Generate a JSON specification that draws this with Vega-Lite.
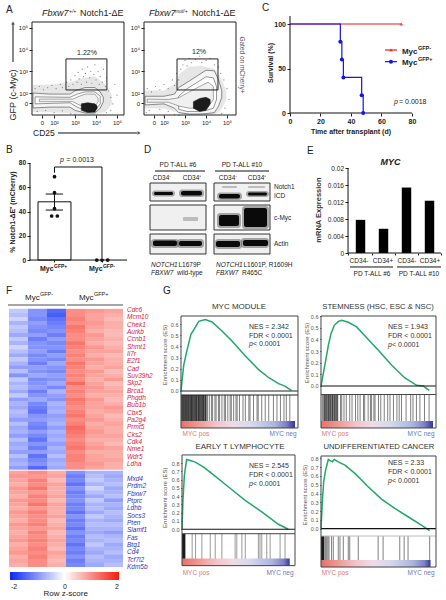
{"$schema":"https://vega.github.io/schema/vega-lite/v6.json","padding":0,"background":"white","columns":3,"spacing":0,"bounds":"flush","align":"none",
"config":{"view":{"stroke":null},"font":"Liberation Sans","axis":{"domain":false,"grid":false,"labelOverlap":false,"tickColor":"#222","labelColor":"#222","tickSize":3,"labelPadding":1.5},"text":{"color":"#222"}},
"datasets":{"heat":[
{"x":0,"y":0,"z":-0.5},{"x":1,"y":0,"z":-1.0},{"x":2,"y":0,"z":-1.4},{"x":3,"y":0,"z":1.0},{"x":4,"y":0,"z":0.9},{"x":5,"y":0,"z":0.8},
{"x":0,"y":1,"z":-0.6},{"x":1,"y":1,"z":-1.0},{"x":2,"y":1,"z":-1.5},{"x":3,"y":1,"z":1.0},{"x":4,"y":1,"z":0.8},{"x":5,"y":1,"z":0.7},
{"x":0,"y":2,"z":-0.4},{"x":1,"y":2,"z":-1.1},{"x":2,"y":2,"z":-1.3},{"x":3,"y":2,"z":1.1},{"x":4,"y":2,"z":0.8},{"x":5,"y":2,"z":0.6},
{"x":0,"y":3,"z":-0.7},{"x":1,"y":3,"z":-0.9},{"x":2,"y":3,"z":-1.2},{"x":3,"y":3,"z":1.0},{"x":4,"y":3,"z":0.9},{"x":5,"y":3,"z":0.7},
{"x":0,"y":4,"z":-0.5},{"x":1,"y":4,"z":-1.0},{"x":2,"y":4,"z":-1.1},{"x":3,"y":4,"z":1.2},{"x":4,"y":4,"z":0.8},{"x":5,"y":4,"z":0.7},
{"x":0,"y":5,"z":-0.6},{"x":1,"y":5,"z":-1.1},{"x":2,"y":5,"z":-1.0},{"x":3,"y":5,"z":1.1},{"x":4,"y":5,"z":0.7},{"x":5,"y":5,"z":0.6},
{"x":0,"y":6,"z":-0.8},{"x":1,"y":6,"z":-0.9},{"x":2,"y":6,"z":-1.2},{"x":3,"y":6,"z":1.0},{"x":4,"y":6,"z":0.9},{"x":5,"y":6,"z":0.6},
{"x":0,"y":7,"z":-0.5},{"x":1,"y":7,"z":-1.2},{"x":2,"y":7,"z":-0.9},{"x":3,"y":7,"z":1.0},{"x":4,"y":7,"z":0.8},{"x":5,"y":7,"z":0.7},
{"x":0,"y":8,"z":-0.7},{"x":1,"y":8,"z":-1.0},{"x":2,"y":8,"z":-1.1},{"x":3,"y":8,"z":1.2},{"x":4,"y":8,"z":0.7},{"x":5,"y":8,"z":0.6},
{"x":0,"y":9,"z":-0.4},{"x":1,"y":9,"z":-1.0},{"x":2,"y":9,"z":-1.0},{"x":3,"y":9,"z":1.1},{"x":4,"y":9,"z":0.9},{"x":5,"y":9,"z":0.7},
{"x":0,"y":10,"z":-0.6},{"x":1,"y":10,"z":-0.9},{"x":2,"y":10,"z":-1.2},{"x":3,"y":10,"z":1.0},{"x":4,"y":10,"z":0.8},{"x":5,"y":10,"z":0.8},
{"x":0,"y":11,"z":-0.8},{"x":1,"y":11,"z":-1.1},{"x":2,"y":11,"z":-0.9},{"x":3,"y":11,"z":1.1},{"x":4,"y":11,"z":0.7},{"x":5,"y":11,"z":0.6},
{"x":0,"y":12,"z":-0.5},{"x":1,"y":12,"z":-1.0},{"x":2,"y":12,"z":-1.1},{"x":3,"y":12,"z":1.0},{"x":4,"y":12,"z":0.9},{"x":5,"y":12,"z":0.7},
{"x":0,"y":13,"z":-0.7},{"x":1,"y":13,"z":-1.2},{"x":2,"y":13,"z":-0.8},{"x":3,"y":13,"z":1.2},{"x":4,"y":13,"z":0.8},{"x":5,"y":13,"z":0.7},
{"x":0,"y":14,"z":-0.9},{"x":1,"y":14,"z":-0.9},{"x":2,"y":14,"z":-1.0},{"x":3,"y":14,"z":1.1},{"x":4,"y":14,"z":0.7},{"x":5,"y":14,"z":0.8},
{"x":0,"y":15,"z":-0.6},{"x":1,"y":15,"z":-1.0},{"x":2,"y":15,"z":-1.1},{"x":3,"y":15,"z":1.0},{"x":4,"y":15,"z":0.9},{"x":5,"y":15,"z":0.6},
{"x":0,"y":16,"z":-1.0},{"x":1,"y":16,"z":-0.8},{"x":2,"y":16,"z":-0.9},{"x":3,"y":16,"z":1.1},{"x":4,"y":16,"z":0.8},{"x":5,"y":16,"z":0.7},
{"x":0,"y":17,"z":-0.5},{"x":1,"y":17,"z":-1.1},{"x":2,"y":17,"z":-1.0},{"x":3,"y":17,"z":1.0},{"x":4,"y":17,"z":0.7},{"x":5,"y":17,"z":0.9},
{"x":0,"y":18,"z":-0.7},{"x":1,"y":18,"z":-1.0},{"x":2,"y":18,"z":-0.8},{"x":3,"y":18,"z":1.3},{"x":4,"y":18,"z":0.8},{"x":5,"y":18,"z":0.6},
{"x":0,"y":19,"z":-0.6},{"x":1,"y":19,"z":-0.9},{"x":2,"y":19,"z":-1.1},{"x":3,"y":19,"z":1.0},{"x":4,"y":19,"z":0.9},{"x":5,"y":19,"z":0.7},
{"x":0,"y":20,"z":-0.8},{"x":1,"y":20,"z":-1.2},{"x":2,"y":20,"z":-0.7},{"x":3,"y":20,"z":1.1},{"x":4,"y":20,"z":0.8},{"x":5,"y":20,"z":0.8},
{"x":0,"y":21,"z":-0.5},{"x":1,"y":21,"z":-1.0},{"x":2,"y":21,"z":-0.9},{"x":3,"y":21,"z":1.0},{"x":4,"y":21,"z":0.7},{"x":5,"y":21,"z":0.7},
{"x":0,"y":22,"z":-0.9},{"x":1,"y":22,"z":-0.8},{"x":2,"y":22,"z":-1.0},{"x":3,"y":22,"z":1.2},{"x":4,"y":22,"z":0.9},{"x":5,"y":22,"z":0.6},
{"x":0,"y":23,"z":-0.7},{"x":1,"y":23,"z":-1.1},{"x":2,"y":23,"z":-0.7},{"x":3,"y":23,"z":1.1},{"x":4,"y":23,"z":0.8},{"x":5,"y":23,"z":0.7},
{"x":0,"y":24,"z":-0.8},{"x":1,"y":24,"z":-1.2},{"x":2,"y":24,"z":-0.8},{"x":3,"y":24,"z":1.0},{"x":4,"y":24,"z":0.8},{"x":5,"y":24,"z":0.9},
{"x":0,"y":25,"z":-0.6},{"x":1,"y":25,"z":-1.3},{"x":2,"y":25,"z":-0.7},{"x":3,"y":25,"z":1.1},{"x":4,"y":25,"z":0.7},{"x":5,"y":25,"z":0.8},
{"x":0,"y":26,"z":-0.7},{"x":1,"y":26,"z":-1.0},{"x":2,"y":26,"z":-0.9},{"x":3,"y":26,"z":1.2},{"x":4,"y":26,"z":0.8},{"x":5,"y":26,"z":0.6},
{"x":0,"y":27,"z":-0.9},{"x":1,"y":27,"z":-0.9},{"x":2,"y":27,"z":-0.8},{"x":3,"y":27,"z":1.0},{"x":4,"y":27,"z":0.9},{"x":5,"y":27,"z":0.7},
{"x":0,"y":28,"z":-0.6},{"x":1,"y":28,"z":-1.1},{"x":2,"y":28,"z":-0.7},{"x":3,"y":28,"z":1.1},{"x":4,"y":28,"z":0.7},{"x":5,"y":28,"z":0.8},
{"x":0,"y":29,"z":-0.8},{"x":1,"y":29,"z":-1.2},{"x":2,"y":29,"z":-0.9},{"x":3,"y":29,"z":1.3},{"x":4,"y":29,"z":0.8},{"x":5,"y":29,"z":0.7},
{"x":0,"y":30,"z":-0.7},{"x":1,"y":30,"z":-0.9},{"x":2,"y":30,"z":-0.7},{"x":3,"y":30,"z":1.2},{"x":4,"y":30,"z":0.9},{"x":5,"y":30,"z":0.7},
{"x":0,"y":31,"z":-0.9},{"x":1,"y":31,"z":-1.1},{"x":2,"y":31,"z":-0.8},{"x":3,"y":31,"z":1.1},{"x":4,"y":31,"z":0.8},{"x":5,"y":31,"z":0.8},
{"x":0,"y":32,"z":-0.6},{"x":1,"y":32,"z":-1.3},{"x":2,"y":32,"z":-0.7},{"x":3,"y":32,"z":1.0},{"x":4,"y":32,"z":0.7},{"x":5,"y":32,"z":0.7},
{"x":0,"y":33,"z":-0.8},{"x":1,"y":33,"z":-1.0},{"x":2,"y":33,"z":-0.9},{"x":3,"y":33,"z":1.1},{"x":4,"y":33,"z":0.8},{"x":5,"y":33,"z":0.6},
{"x":0,"y":34,"z":-0.7},{"x":1,"y":34,"z":-1.2},{"x":2,"y":34,"z":-0.7},{"x":3,"y":34,"z":1.2},{"x":4,"y":34,"z":0.9},{"x":5,"y":34,"z":0.8},
{"x":0,"y":35,"z":-0.9},{"x":1,"y":35,"z":-0.9},{"x":2,"y":35,"z":-0.8},{"x":3,"y":35,"z":1.0},{"x":4,"y":35,"z":0.7},{"x":5,"y":35,"z":0.7},
{"x":0,"y":36,"z":-0.6},{"x":1,"y":36,"z":-1.3},{"x":2,"y":36,"z":-0.6},{"x":3,"y":36,"z":1.1},{"x":4,"y":36,"z":0.8},{"x":5,"y":36,"z":0.7},
{"x":0,"y":37,"z":-0.8},{"x":1,"y":37,"z":-1.1},{"x":2,"y":37,"z":-0.8},{"x":3,"y":37,"z":1.1},{"x":4,"y":37,"z":0.8},{"x":5,"y":37,"z":0.8},
{"x":0,"y":38,"z":-0.7},{"x":1,"y":38,"z":-1.0},{"x":2,"y":38,"z":-0.7},{"x":3,"y":38,"z":1.0},{"x":4,"y":38,"z":0.9},{"x":5,"y":38,"z":0.7},
{"x":0,"y":39,"z":-0.9},{"x":1,"y":39,"z":-1.4},{"x":2,"y":39,"z":-0.8},{"x":3,"y":39,"z":1.0},{"x":4,"y":39,"z":0.8},{"x":5,"y":39,"z":0.7},
{"x":0,"y":40,"z":0.8},{"x":1,"y":40,"z":1.0},{"x":2,"y":40,"z":0.7},{"x":3,"y":40,"z":-1.0},{"x":4,"y":40,"z":-0.7},{"x":5,"y":40,"z":-0.7},
{"x":0,"y":41,"z":0.9},{"x":1,"y":41,"z":0.9},{"x":2,"y":41,"z":0.8},{"x":3,"y":41,"z":-1.2},{"x":4,"y":41,"z":-0.6},{"x":5,"y":41,"z":-0.8},
{"x":0,"y":42,"z":0.8},{"x":1,"y":42,"z":1.1},{"x":2,"y":42,"z":0.6},{"x":3,"y":42,"z":-1.1},{"x":4,"y":42,"z":-0.5},{"x":5,"y":42,"z":-0.7},
{"x":0,"y":43,"z":0.7},{"x":1,"y":43,"z":1.0},{"x":2,"y":43,"z":0.8},{"x":3,"y":43,"z":-1.3},{"x":4,"y":43,"z":-0.7},{"x":5,"y":43,"z":-0.6},
{"x":0,"y":44,"z":0.9},{"x":1,"y":44,"z":1.2},{"x":2,"y":44,"z":0.7},{"x":3,"y":44,"z":-1.0},{"x":4,"y":44,"z":-0.4},{"x":5,"y":44,"z":-0.8},
{"x":0,"y":45,"z":0.8},{"x":1,"y":45,"z":0.9},{"x":2,"y":45,"z":0.7},{"x":3,"y":45,"z":-1.2},{"x":4,"y":45,"z":-0.6},{"x":5,"y":45,"z":-0.7},
{"x":0,"y":46,"z":0.7},{"x":1,"y":46,"z":1.1},{"x":2,"y":46,"z":0.8},{"x":3,"y":46,"z":-1.1},{"x":4,"y":46,"z":-0.8},{"x":5,"y":46,"z":-0.6},
{"x":0,"y":47,"z":0.9},{"x":1,"y":47,"z":1.0},{"x":2,"y":47,"z":0.6},{"x":3,"y":47,"z":-1.0},{"x":4,"y":47,"z":-0.5},{"x":5,"y":47,"z":-0.9},
{"x":0,"y":48,"z":0.8},{"x":1,"y":48,"z":1.2},{"x":2,"y":48,"z":0.8},{"x":3,"y":48,"z":-1.2},{"x":4,"y":48,"z":-0.7},{"x":5,"y":48,"z":-0.7},
{"x":0,"y":49,"z":0.7},{"x":1,"y":49,"z":0.9},{"x":2,"y":49,"z":0.7},{"x":3,"y":49,"z":-1.1},{"x":4,"y":49,"z":-0.6},{"x":5,"y":49,"z":-0.8},
{"x":0,"y":50,"z":0.9},{"x":1,"y":50,"z":1.1},{"x":2,"y":50,"z":0.7},{"x":3,"y":50,"z":-1.3},{"x":4,"y":50,"z":-0.8},{"x":5,"y":50,"z":-0.6},
{"x":0,"y":51,"z":0.8},{"x":1,"y":51,"z":1.0},{"x":2,"y":51,"z":0.8},{"x":3,"y":51,"z":-1.0},{"x":4,"y":51,"z":-0.5},{"x":5,"y":51,"z":-0.7},
{"x":0,"y":52,"z":0.7},{"x":1,"y":52,"z":1.0},{"x":2,"y":52,"z":0.6},{"x":3,"y":52,"z":-1.2},{"x":4,"y":52,"z":-0.7},{"x":5,"y":52,"z":-0.8},
{"x":0,"y":53,"z":0.9},{"x":1,"y":53,"z":1.1},{"x":2,"y":53,"z":0.7},{"x":3,"y":53,"z":-1.1},{"x":4,"y":53,"z":-0.6},{"x":5,"y":53,"z":-0.6},
{"x":0,"y":54,"z":0.8},{"x":1,"y":54,"z":0.9},{"x":2,"y":54,"z":0.8},{"x":3,"y":54,"z":-1.3},{"x":4,"y":54,"z":-0.7},{"x":5,"y":54,"z":-0.7},
{"x":0,"y":55,"z":0.7},{"x":1,"y":55,"z":1.1},{"x":2,"y":55,"z":0.6},{"x":3,"y":55,"z":-1.0},{"x":4,"y":55,"z":-0.8},{"x":5,"y":55,"z":-0.9},
{"x":0,"y":56,"z":0.8},{"x":1,"y":56,"z":1.0},{"x":2,"y":56,"z":0.7},{"x":3,"y":56,"z":-1.2},{"x":4,"y":56,"z":-0.6},{"x":5,"y":56,"z":-0.7},
{"x":0,"y":57,"z":0.9},{"x":1,"y":57,"z":1.1},{"x":2,"y":57,"z":0.8},{"x":3,"y":57,"z":-1.1},{"x":4,"y":57,"z":-0.7},{"x":5,"y":57,"z":-0.6},
{"x":0,"y":58,"z":0.7},{"x":1,"y":58,"z":1.0},{"x":2,"y":58,"z":0.7},{"x":3,"y":58,"z":-1.3},{"x":4,"y":58,"z":-0.5},{"x":5,"y":58,"z":-0.8},
{"x":0,"y":59,"z":0.8},{"x":1,"y":59,"z":1.1},{"x":2,"y":59,"z":0.6},{"x":3,"y":59,"z":-1.1},{"x":4,"y":59,"z":-0.7},{"x":5,"y":59,"z":-0.7},
{"x":0,"y":60,"z":0.9},{"x":1,"y":60,"z":1.0},{"x":2,"y":60,"z":0.8},{"x":3,"y":60,"z":-1.2},{"x":4,"y":60,"z":-0.8},{"x":5,"y":60,"z":-0.6},
{"x":0,"y":61,"z":0.7},{"x":1,"y":61,"z":1.1},{"x":2,"y":61,"z":0.7},{"x":3,"y":61,"z":-1.0},{"x":4,"y":61,"z":-0.6},{"x":5,"y":61,"z":-0.8},
{"x":0,"y":62,"z":0.8},{"x":1,"y":62,"z":1.0},{"x":2,"y":62,"z":0.6},{"x":3,"y":62,"z":-1.2},{"x":4,"y":62,"z":-0.7},{"x":5,"y":62,"z":-0.7},
{"x":0,"y":63,"z":0.7},{"x":1,"y":63,"z":1.0},{"x":2,"y":63,"z":0.7},{"x":3,"y":63,"z":-1.1},{"x":4,"y":63,"z":-0.8},{"x":5,"y":63,"z":-0.6}
]},
"concat":[
{"width":140,"height":142,
"encoding":{"x":{"field":"x","type":"quantitative","title":null,"scale":{"domain":[-0.571,6.095],"nice":false,"zero":false},"axis":{"values":[1.429,2,3,4,5],"labelExpr":"datum.value<2?'0':datum.value==2?'10²':datum.value==3?'10³':datum.value==4?'10⁴':'10⁵'","offset":-27,"labelFontSize":6}},"y":{"field":"y","type":"quantitative","title":null,"scale":{"domain":[-0.258,6.286],"nice":false,"zero":false},"axis":{"values":[1.539,2,3,4,5],"labelExpr":"datum.value<2?'0':datum.value==2?'10²':datum.value==3?'10³':datum.value==4?'10⁴':'10⁵'","offset":-32,"labelFontSize":6}}},
"layer":[
{"data":{"values":[{"l":0,"x":1.0,"y":1.12,"y2":2.37},{"l":0,"x":1.81,"y":1.12,"y2":2.37},{"l":0,"x":2.76,"y":1.08,"y2":2.5},{"l":0,"x":3.48,"y":1.03,"y2":2.7},{"l":0,"x":3.95,"y":1.03,"y2":2.75},{"l":0,"x":4.43,"y":1.12,"y2":2.4},{"l":0,"x":4.75,"y":1.5,"y2":1.9},
{"l":1,"x":1.0,"y":1.31,"y2":2.0},{"l":1,"x":1.81,"y":1.35,"y2":1.95},{"l":1,"x":2.76,"y":1.35,"y2":1.95},{"l":1,"x":3.0,"y":1.2,"y2":2.1},{"l":1,"x":3.48,"y":1.08,"y2":2.25},{"l":1,"x":3.95,"y":1.08,"y2":2.25},{"l":1,"x":4.2,"y":1.3,"y2":2.05},{"l":1,"x":4.35,"y":1.6,"y2":1.8},
{"l":2,"x":1.1,"y":1.5,"y2":1.82},{"l":2,"x":2.76,"y":1.55,"y2":1.8},{"l":2,"x":3.1,"y":1.35,"y2":1.95},{"l":2,"x":3.48,"y":1.2,"y2":2.05},{"l":2,"x":3.95,"y":1.2,"y2":2.05},{"l":2,"x":4.2,"y":1.5,"y2":1.85},
{"l":3,"x":1.3,"y":1.6,"y2":1.72},{"l":3,"x":2.9,"y":1.6,"y2":1.72},{"l":3,"x":3.2,"y":1.45,"y2":1.85},{"l":3,"x":3.5,"y":1.35,"y2":1.95},{"l":3,"x":3.95,"y":1.35,"y2":1.95},{"l":3,"x":4.1,"y":1.6,"y2":1.75},
{"l":4,"x":3.3,"y":1.2,"y2":1.5},{"l":4,"x":3.6,"y":1.1,"y2":1.55},{"l":4,"x":3.95,"y":1.12,"y2":1.5},{"l":4,"x":4.05,"y":1.3,"y2":1.4}]},
"mark":{"type":"area","strokeWidth":0.5},"encoding":{"y2":{"field":"y2"},"fill":{"field":"l","type":"ordinal","legend":null,"scale":{"domain":[0,1,2,3,4],"range":["#e6e6e6","#f5f5f5","#ffffff","#f0f0f0","#1c1c1c"]}},"stroke":{"field":"l","type":"ordinal","legend":null,"scale":{"domain":[0,1,2,3,4],"range":["#e6e6e6","#222222","#333333","#555555","#111111"]}}}},
{"data":{"values":[{"x":1.1,"y":2.2},{"x":1.3,"y":2.3},{"x":1.5,"y":2.15},{"x":1.7,"y":2.25},{"x":1.9,"y":2.35},{"x":2.1,"y":2.2},{"x":2.3,"y":2.4},{"x":2.4,"y":2.25},{"x":2.6,"y":2.5},{"x":2.7,"y":2.3},{"x":2.8,"y":2.6},{"x":2.9,"y":2.4},{"x":3,"y":2.8},{"x":3.1,"y":2.5},{"x":3.15,"y":2.95},{"x":3.2,"y":2.65},{"x":3.3,"y":2.4},{"x":3.35,"y":3.1},{"x":3.4,"y":2.75},{"x":3.5,"y":2.9},{"x":3.55,"y":2.5},{"x":3.6,"y":3.2},{"x":3.7,"y":2.7},{"x":3.75,"y":3.0},{"x":3.8,"y":2.45},{"x":3.9,"y":2.85},{"x":3.95,"y":3.3},{"x":4,"y":2.6},{"x":4.1,"y":3.0},{"x":4.15,"y":2.4},{"x":4.2,"y":2.75},{"x":4.3,"y":2.5},{"x":4.35,"y":3.1},{"x":4.45,"y":2.3},{"x":4.5,"y":2.7},{"x":4.6,"y":2.1},{"x":4.7,"y":1.8},{"x":4.8,"y":1.5},{"x":4.9,"y":2.4},{"x":1.2,"y":1.15},{"x":1.6,"y":1.2},{"x":2,"y":1.1},{"x":2.4,"y":1.18},{"x":2.8,"y":1.05},{"x":3.0,"y":1.0},{"x":4.5,"y":1.1},{"x":4.7,"y":1.2},{"x":5.0,"y":1.9}]},"mark":{"type":"point","filled":true,"size":1.5,"color":"#666","opacity":0.8}},
{"data":{"values":[{"x":0.952,"x2":5.333,"y":0.986,"y2":5.272},{"x":2.57,"x2":4.52,"y":2.14,"y2":3.57}]},"mark":{"type":"rect","fillOpacity":0,"stroke":"#222","strokeWidth":1},"encoding":{"x2":{"field":"x2"},"y2":{"field":"y2"}}},
{"data":{"values":[{"x":0.048,"x2":0.048,"y":3.429,"y2":5.18},{"x":2.19,"x2":5.95,"y":0.157,"y2":0.157}]},"mark":{"type":"rule","color":"#111","strokeWidth":1},"encoding":{"x2":{"field":"x2"},"y2":{"field":"y2"}}},
{"data":{"values":[{"x":0.048,"y":5.226}]},"mark":{"type":"point","shape":"triangle-up","filled":true,"size":14,"color":"#111"}},
{"data":{"values":[{"x":6.05,"y":0.157}]},"mark":{"type":"point","shape":"triangle-right","filled":true,"size":14,"color":"#111"}},
{"data":{"values":[{"x":-0.286,"y":5.825,"t":"A"}]},"mark":{"type":"text","align":"left","fontSize":10},"encoding":{"text":{"field":"t"}}},
{"data":{"values":[{"x":1.429,"y":5.687,"t":"Fbxw7"}]},"mark":{"type":"text","align":"left","fontSize":9,"fontStyle":"italic"},"encoding":{"text":{"field":"t"}}},
{"data":{"values":[{"x":2.714,"y":5.779,"t":"+/+"}]},"mark":{"type":"text","align":"left","fontSize":5,"fontStyle":"italic"},"encoding":{"text":{"field":"t"}}},
{"data":{"values":[{"x":3.238,"y":5.687,"t":"Notch1-ΔE"}]},"mark":{"type":"text","align":"left","fontSize":9},"encoding":{"text":{"field":"t"}}},
{"data":{"values":[{"x":1.0,"y":0.157,"t":"CD25"}]},"mark":{"type":"text","align":"left","fontSize":8.5},"encoding":{"text":{"field":"t"}}},
{"data":{"values":[{"x":3.571,"y":3.843,"t":"1.22%"}]},"mark":{"type":"text","fontSize":7},"encoding":{"text":{"field":"t"}}},
{"data":{"values":[{"x":0.048,"y":1.908,"t":"GFP (c-Myc)"}]},"mark":{"type":"text","fontSize":9,"angle":270},"encoding":{"text":{"field":"t"}}}
]},
{"width":145,"height":142,
"encoding":{"x":{"field":"x","type":"quantitative","title":null,"scale":{"domain":[0.857,7.762],"nice":false,"zero":false},"axis":{"values":[1.524,2,3,4,5],"labelExpr":"datum.value<2?'0':datum.value==2?'10²':datum.value==3?'10³':datum.value==4?'10⁴':'10⁵'","offset":-27,"labelFontSize":6}},"y":{"field":"y","type":"quantitative","title":null,"scale":{"domain":[-0.258,6.286],"nice":false,"zero":false},"axis":{"values":[1.539,2,3,4,5],"labelExpr":"datum.value<2?'0':datum.value==2?'10²':datum.value==3?'10³':datum.value==4?'10⁴':'10⁵'","offset":-4,"labelFontSize":6}}},
"layer":[
{"data":{"values":[{"l":0,"x":1.05,"y":1.31,"y2":2.1},{"l":0,"x":2.0,"y":1.3,"y2":2.1},{"l":0,"x":2.5,"y":1.15,"y2":2.4},{"l":0,"x":2.75,"y":1.05,"y2":2.9},{"l":0,"x":3.2,"y":1.0,"y2":3.2},{"l":0,"x":3.8,"y":1.0,"y2":3.25},{"l":0,"x":4.4,"y":1.0,"y2":3.1},{"l":0,"x":4.7,"y":1.2,"y2":2.7},{"l":0,"x":4.95,"y":1.7,"y2":2.1},
{"l":1,"x":1.1,"y":1.45,"y2":1.85},{"l":1,"x":2.0,"y":1.5,"y2":1.85},{"l":1,"x":2.5,"y":1.3,"y2":1.95},{"l":1,"x":2.7,"y":1.1,"y2":2.25},{"l":1,"x":3.2,"y":1.03,"y2":2.55},{"l":1,"x":3.6,"y":1.03,"y2":2.8},{"l":1,"x":4.0,"y":1.05,"y2":3.05},{"l":1,"x":4.4,"y":1.1,"y2":3.02},{"l":1,"x":4.6,"y":1.4,"y2":2.6},{"l":1,"x":4.75,"y":1.8,"y2":2.1},
{"l":2,"x":2.7,"y":1.25,"y2":1.85},{"l":2,"x":3.1,"y":1.15,"y2":2.2},{"l":2,"x":3.6,"y":1.15,"y2":2.5},{"l":2,"x":4.0,"y":1.2,"y2":2.75},{"l":2,"x":4.35,"y":1.3,"y2":2.7},{"l":2,"x":4.5,"y":1.7,"y2":2.3},
{"l":3,"x":1.2,"y":1.57,"y2":1.72},{"l":3,"x":2.2,"y":1.58,"y2":1.7},{"l":3,"x":2.7,"y":1.4,"y2":1.78},{"l":3,"x":3.2,"y":1.3,"y2":2.05},{"l":3,"x":3.7,"y":1.3,"y2":2.3},{"l":3,"x":4.1,"y":1.35,"y2":2.5},{"l":3,"x":4.35,"y":1.7,"y2":2.3},
{"l":4,"x":3.4,"y":1.3,"y2":1.6},{"l":4,"x":3.7,"y":1.15,"y2":1.75},{"l":4,"x":4.0,"y":1.2,"y2":1.8},{"l":4,"x":4.2,"y":1.5,"y2":1.7}]},
"mark":{"type":"area","strokeWidth":0.5},"encoding":{"y2":{"field":"y2"},"fill":{"field":"l","type":"ordinal","legend":null,"scale":{"domain":[0,1,2,3,4],"range":["#e6e6e6","#e8e8e8","#d8d8d8","#f2f2f2","#1c1c1c"]}},"stroke":{"field":"l","type":"ordinal","legend":null,"scale":{"domain":[0,1,2,3,4],"range":["#e6e6e6","#222222","#333333","#555555","#111111"]}}}},
{"data":{"values":[{"x":1.2,"y":2.2},{"x":1.4,"y":2.05},{"x":1.6,"y":2.3},{"x":1.8,"y":2.15},{"x":2,"y":2.4},{"x":2.2,"y":2.2},{"x":2.4,"y":2.6},{"x":2.5,"y":2.35},{"x":2.6,"y":2.9},{"x":2.7,"y":2.6},{"x":2.8,"y":3.1},{"x":2.9,"y":3.3},{"x":3,"y":3.5},{"x":3.1,"y":3.25},{"x":3.2,"y":3.6},{"x":3.3,"y":3.4},{"x":3.5,"y":3.55},{"x":3.7,"y":3.7},{"x":3.8,"y":3.4},{"x":4,"y":3.5},{"x":4.2,"y":3.6},{"x":4.4,"y":3.3},{"x":4.6,"y":3.2},{"x":4.7,"y":2.9},{"x":4.85,"y":2.6},{"x":5,"y":2.2},{"x":5.1,"y":1.7},{"x":4.9,"y":1.3},{"x":4.75,"y":1.05},{"x":1.3,"y":1.2},{"x":1.8,"y":1.25},{"x":2.2,"y":1.15},{"x":2.5,"y":1.0},{"x":2.7,"y":0.98},{"x":1.15,"y":1.1},{"x":2,"y":0.95}]},"mark":{"type":"point","filled":true,"size":1.5,"color":"#666","opacity":0.8}},
{"data":{"values":[{"x":1.048,"x2":5.429,"y":0.986,"y2":5.272},{"x":2.62,"x2":4.57,"y":2.14,"y2":3.57}]},"mark":{"type":"rect","fillOpacity":0,"stroke":"#222","strokeWidth":1},"encoding":{"x2":{"field":"x2"},"y2":{"field":"y2"}}},
{"data":{"values":[{"x":1.286,"y":5.687,"t":"Fbxw7"}]},"mark":{"type":"text","align":"left","fontSize":9,"fontStyle":"italic"},"encoding":{"text":{"field":"t"}}},
{"data":{"values":[{"x":2.524,"y":5.779,"t":"mut/+"}]},"mark":{"type":"text","align":"left","fontSize":5,"fontStyle":"italic"},"encoding":{"text":{"field":"t"}}},
{"data":{"values":[{"x":3.333,"y":5.687,"t":"Notch1-ΔE"}]},"mark":{"type":"text","align":"left","fontSize":9},"encoding":{"text":{"field":"t"}}},
{"data":{"values":[{"x":3.667,"y":3.89,"t":"12%"}]},"mark":{"type":"text","fontSize":7},"encoding":{"text":{"field":"t"}}},
{"data":{"values":[{"x":5.714,"y":3.29,"t":"Gated on mCherry+"}]},"mark":{"type":"text","fontSize":6.5,"angle":90,"color":"#555"},"encoding":{"text":{"field":"t"}}}
]},
{"width":161,"height":142,
"encoding":{"x":{"field":"x","type":"quantitative","title":null,"scale":{"domain":[-3.279,102.3],"nice":false,"zero":false},"axis":{"values":[0,20,40,60,80],"offset":-29,"labelFontSize":7,"labelFontWeight":"bold"}},"y":{"field":"y","type":"quantitative","title":null,"scale":{"domain":[-32.58,126.97],"nice":false,"zero":false},"axis":{"values":[0,50,100],"offset":-5,"labelFontSize":7,"labelFontWeight":"bold"}}},
"layer":[
{"data":{"values":[{"x":0,"x2":0,"y":0,"y2":109},{"x":0,"x2":80,"y":0,"y2":0}]},"mark":{"type":"rule","color":"#111","strokeWidth":1},"encoding":{"x2":{"field":"x2"},"y2":{"field":"y2"}}},
{"data":{"values":[{"x":0,"y":100},{"x":73,"y":100}]},"mark":{"type":"line","color":"#f01818","strokeWidth":1.2}},
{"data":{"values":[{"x":73,"y":100},{"x":66.2,"y":70.8}]},"mark":{"type":"point","shape":"triangle-up","filled":true,"size":14,"color":"#f01818"}},
{"data":{"values":[{"x":0,"y":100},{"x":33,"y":80},{"x":34,"y":60},{"x":35,"y":40},{"x":47,"y":20},{"x":48,"y":0}]},"mark":{"type":"line","color":"#1414f0","strokeWidth":1.2,"interpolate":"step-after"}},
{"data":{"values":[{"x":33,"y":80},{"x":34,"y":60},{"x":35,"y":40},{"x":47,"y":20},{"x":48,"y":0},{"x":66.2,"y":57.7}]},"mark":{"type":"point","shape":"circle","filled":true,"size":16,"color":"#1414f0","opacity":1}},
{"data":{"values":[{"x":62.3,"x2":70.2,"y":70.8,"y2":70.8}]},"mark":{"type":"rule","color":"#f01818","strokeWidth":1.2},"encoding":{"x2":{"field":"x2"},"y2":{"field":"y2"}}},
{"data":{"values":[{"x":62.3,"x2":70.2,"y":57.7,"y2":57.7}]},"mark":{"type":"rule","color":"#1414f0","strokeWidth":1.2},"encoding":{"x2":{"field":"x2"},"y2":{"field":"y2"}}},
{"data":{"values":[{"x":-18.4,"y":118,"t":"C"}]},"mark":{"type":"text","align":"left","fontSize":10},"encoding":{"text":{"field":"t"}}},
{"data":{"values":[{"x":73.4,"y":68.5,"t":"Myc"},{"x":73.4,"y":56.5,"t":"Myc"}]},"mark":{"type":"text","align":"left","fontSize":8,"fontWeight":"bold"},"encoding":{"text":{"field":"t"}}},
{"data":{"values":[{"x":83.9,"y":73,"t":"GFP-"},{"x":83.9,"y":60.7,"t":"GFP+"}]},"mark":{"type":"text","align":"left","fontSize":5.5,"fontWeight":"bold"},"encoding":{"text":{"field":"t"}}},
{"data":{"values":[{"x":68.2,"y":12.4,"t":"p"}]},"mark":{"type":"text","align":"left","fontSize":7,"fontStyle":"italic"},"encoding":{"text":{"field":"t"}}},
{"data":{"values":[{"x":71.5,"y":12.4,"t":"= 0.0018"}]},"mark":{"type":"text","align":"left","fontSize":7},"encoding":{"text":{"field":"t"}}},
{"data":{"values":[{"x":-12.5,"y":56.2,"t":"Survival (%)"}]},"mark":{"type":"text","fontSize":7,"fontWeight":"bold","angle":270},"encoding":{"text":{"field":"t"}}},
{"data":{"values":[{"x":40,"y":-21.3,"t":"Time after transplant (d)"}]},"mark":{"type":"text","fontSize":7,"fontWeight":"bold"},"encoding":{"text":{"field":"t"}}}
]},
{"width":140,"height":148,
"encoding":{"x":{"field":"x","type":"quantitative","title":null,"scale":{"domain":[-0.147,2.8],"nice":false,"zero":false},"axis":{"values":[1,2],"labels":false,"offset":-30,"tickSize":2}},"y":{"field":"y","type":"quantitative","title":null,"scale":{"domain":[-24.7,97.3],"nice":false,"zero":false},"axis":{"values":[0,20,40,60,80],"offset":-30,"labelFontSize":6.5,"labelFontWeight":"bold"}}},
"layer":[
{"data":{"values":[{"x":0.653,"x2":1.347,"y":0,"y2":48}]},"mark":{"type":"rect","fill":"white","stroke":"#111","strokeWidth":1},"encoding":{"x2":{"field":"x2"},"y2":{"field":"y2"}}},
{"data":{"values":[{"x":0.484,"x2":0.484,"y":0,"y2":80},{"x":0.484,"x2":2.526,"y":0,"y2":0},{"x":1,"x2":1,"y":41.2,"y2":54.4},{"x":0.815,"x2":1.18,"y":41.2,"y2":41.2},{"x":0.815,"x2":1.18,"y":54.4,"y2":54.4},{"x":1,"x2":1,"y":76.7,"y2":72},{"x":1,"x2":2,"y":76.7,"y2":76.7},{"x":2,"x2":2,"y":76.7,"y2":1.6}]},"mark":{"type":"rule","color":"#111","strokeWidth":1},"encoding":{"x2":{"field":"x2"},"y2":{"field":"y2"}}},
{"data":{"values":[{"x":1,"y":68.7},{"x":1,"y":55.5},{"x":1,"y":42.3},{"x":0.94,"y":36.3},{"x":1.06,"y":36.3},{"x":1.89,"y":0},{"x":2.0,"y":0},{"x":2.12,"y":0}]},"mark":{"type":"point","shape":"circle","filled":true,"size":14,"color":"#111","opacity":1}},
{"data":{"values":[{"x":-0.021,"y":90.7,"t":"B"}]},"mark":{"type":"text","align":"left","fontSize":10},"encoding":{"text":{"field":"t"}}},
{"data":{"values":[{"x":1.116,"y":82.5,"t":"p"}]},"mark":{"type":"text","align":"left","fontSize":7,"fontStyle":"italic"},"encoding":{"text":{"field":"t"}}},
{"data":{"values":[{"x":1.25,"y":82.5,"t":"= 0.0013"}]},"mark":{"type":"text","align":"left","fontSize":7},"encoding":{"text":{"field":"t"}}},
{"data":{"values":[{"x":0.126,"y":39.6,"t":"% Notch1-ΔE⁺ (mCherry)"}]},"mark":{"type":"text","fontSize":7,"fontWeight":"bold","angle":270},"encoding":{"text":{"field":"t"}}},
{"data":{"values":[{"x":0.695,"y":-7.4,"t":"Myc"},{"x":1.726,"y":-7.4,"t":"Myc"}]},"mark":{"type":"text","align":"left","fontSize":7,"fontWeight":"bold"},"encoding":{"text":{"field":"t"}}},
{"data":{"values":[{"x":0.99,"y":-4.9,"t":"GFP+"},{"x":2.02,"y":-4.9,"t":"GFP-"}]},"mark":{"type":"text","align":"left","fontSize":5,"fontWeight":"bold"},"encoding":{"text":{"field":"t"}}}
]},
{"width":145,"height":148,
"encoding":{"x":{"field":"x","type":"quantitative","title":null,"scale":{"domain":[0,14.5],"nice":false,"zero":false},"axis":null},"y":{"field":"y","type":"quantitative","title":null,"scale":{"domain":[14.8,0],"nice":false,"zero":false},"axis":null}},
"layer":[
{"data":{"values":[{"x":1.0,"x2":6.6,"y":4.1,"y2":5.9},{"x":1.0,"x2":6.6,"y":6.3,"y2":8.8},{"x":1.0,"x2":6.6,"y":9.2,"y2":11.2},{"x":7.4,"x2":13.0,"y":4.1,"y2":5.9},{"x":7.4,"x2":13.0,"y":6.3,"y2":8.8},{"x":7.4,"x2":13.0,"y":9.2,"y2":11.2}]},"mark":{"type":"rect","fill":"#f0f0f0","stroke":"#333","strokeWidth":1},"encoding":{"x2":{"field":"x2"},"y2":{"field":"y2"}}},
{"data":{"values":[{"x":8.2,"x2":9.7,"y":4.4,"y2":4.6},{"x":10.8,"x2":12.5,"y":4.4,"y2":4.6},{"x":4.3,"x2":5.8,"y":7.5,"y2":7.9}]},"mark":{"type":"rect","fill":"#999","opacity":0.6,"cornerRadius":1},"encoding":{"x2":{"field":"x2"},"y2":{"field":"y2"}}},
{"data":{"values":[{"x":1.2,"x2":3.5,"y":4.85,"y2":5.45},{"x":3.9,"x2":6.4,"y":4.75,"y2":5.5},{"x":7.7,"x2":10.2,"y":5.05,"y2":5.8},{"x":10.6,"x2":12.9,"y":4.9,"y2":5.5},{"x":7.7,"x2":10.1,"y":7.1,"y2":8.6},{"x":10.2,"x2":12.9,"y":6.4,"y2":8.7},{"x":1.1,"x2":3.9,"y":9.7,"y2":10.6},{"x":3.7,"x2":6.4,"y":9.7,"y2":10.6},{"x":7.5,"x2":10.2,"y":9.7,"y2":10.7},{"x":10.1,"x2":12.9,"y":9.6,"y2":10.6}]},"mark":{"type":"rect","fill":"#333","opacity":0.4,"cornerRadius":3},"encoding":{"x2":{"field":"x2"},"y2":{"field":"y2"}}},
{"data":{"values":[{"x":1.4,"x2":3.3,"y":5.0,"y2":5.3},{"x":4.1,"x2":6.2,"y":4.9,"y2":5.35},{"x":7.9,"x2":10,"y":5.2,"y2":5.65},{"x":10.8,"x2":12.7,"y":5.05,"y2":5.35},{"x":7.9,"x2":9.9,"y":7.3,"y2":8.4},{"x":10.4,"x2":12.7,"y":6.6,"y2":8.5},{"x":1.3,"x2":3.7,"y":9.85,"y2":10.4},{"x":3.9,"x2":6.2,"y":9.9,"y2":10.4},{"x":7.6,"x2":10,"y":9.9,"y2":10.5},{"x":10.3,"x2":12.8,"y":9.8,"y2":10.4}]},"mark":{"type":"rect","fill":"#0a0a0a","cornerRadius":2},"encoding":{"x2":{"field":"x2"},"y2":{"field":"y2"}}},
{"data":{"values":[{"x":1.5,"x2":6.5,"y":2.9,"y2":2.9},{"x":7.5,"x2":12.9,"y":2.9,"y2":2.9}]},"mark":{"type":"rule","color":"#111","strokeWidth":1},"encoding":{"x2":{"field":"x2"},"y2":{"field":"y2"}}},
{"data":{"values":[{"x":0.4,"y":0.8,"t":"D"}]},"mark":{"type":"text","align":"left","fontSize":10},"encoding":{"text":{"field":"t"}}},
{"data":{"values":[{"x":3.8,"y":2.3,"t":"PD T-ALL #6"},{"x":10.2,"y":2.3,"t":"PD T-ALL #10"},{"x":2.2,"y":3.6,"t":"CD34⁻"},{"x":5.2,"y":3.6,"t":"CD34⁺"},{"x":8.8,"y":3.6,"t":"CD34⁻"},{"x":11.7,"y":3.6,"t":"CD34⁺"}]},"mark":{"type":"text","fontSize":6.5},"encoding":{"text":{"field":"t"}}},
{"data":{"values":[{"x":13.4,"y":4.5,"t":"Notch1"},{"x":13.4,"y":5.4,"t":"ICD"},{"x":13.4,"y":7.6,"t":"c-Myc"},{"x":13.4,"y":10.2,"t":"Actin"},{"x":3.85,"y":12.3,"t":"L1679P"},{"x":3.7,"y":13.1,"t":"wild-type"},{"x":10.35,"y":12.3,"t":"L1601P, R1609H"},{"x":10.2,"y":13.1,"t":"R465C"}]},"mark":{"type":"text","align":"left","fontSize":6.5},"encoding":{"text":{"field":"t"}}},
{"data":{"values":[{"x":1.1,"y":12.3,"t":"NOTCH1"},{"x":1.1,"y":13.1,"t":"FBXW7"},{"x":7.6,"y":12.3,"t":"NOTCH1"},{"x":7.6,"y":13.1,"t":"FBXW7"}]},"mark":{"type":"text","align":"left","fontSize":6.5,"fontStyle":"italic"},"encoding":{"text":{"field":"t"}}}
]},
{"width":161,"height":148,
"encoding":{"x":{"field":"x","type":"quantitative","title":null,"scale":{"domain":[-2.283,4.717],"nice":false,"zero":false},"axis":{"values":[0.457,1.5,2.5,3.5,4.5],"labels":false,"offset":-37,"tickSize":2}},"y":{"field":"y","type":"quantitative","title":null,"scale":{"domain":[-0.008706,0.02612],"nice":false,"zero":false},"axis":{"values":[0,0.004,0.008,0.012,0.016,0.02],"format":".3~f","offset":-63,"labelFontSize":6.5}}},
"layer":[
{"data":{"values":[{"x":0.795,"x2":1.205,"y":0,"y2":0.0078},{"x":1.795,"x2":2.205,"y":0,"y2":0.0057},{"x":2.795,"x2":3.205,"y":0,"y2":0.0154},{"x":3.795,"x2":4.205,"y":0,"y2":0.0123}]},"mark":{"type":"rect","fill":"#000"},"encoding":{"x2":{"field":"x2"},"y2":{"field":"y2"}}},
{"data":{"values":[{"x":0.457,"x2":0.457,"y":0,"y2":0.02},{"x":0.457,"x2":4.5,"y":0,"y2":0},{"x":0.543,"x2":2.413,"y":-0.00329,"y2":-0.00329},{"x":2.587,"x2":4.5,"y":-0.00329,"y2":-0.00329}]},"mark":{"type":"rule","color":"#111","strokeWidth":1},"encoding":{"x2":{"field":"x2"},"y2":{"field":"y2"}}},
{"data":{"values":[{"x":-1.326,"y":0.024,"t":"E"}]},"mark":{"type":"text","align":"left","fontSize":10},"encoding":{"text":{"field":"t"}}},
{"data":{"values":[{"x":2.3,"y":0.02141,"t":"MYC"}]},"mark":{"type":"text","fontSize":9,"fontWeight":"bold","fontStyle":"italic"},"encoding":{"text":{"field":"t"}}},
{"data":{"values":[{"x":-0.804,"y":0.0101,"t":"mRNA Expression"}]},"mark":{"type":"text","fontSize":7.5,"fontWeight":"bold","angle":270,"color":"#333"},"encoding":{"text":{"field":"t"}}},
{"data":{"values":[{"x":0.935,"y":-0.00188,"t":"CD34-"},{"x":1.978,"y":-0.00188,"t":"CD34+"},{"x":3.02,"y":-0.00188,"t":"CD34-"},{"x":4.02,"y":-0.00188,"t":"CD34+"},{"x":1.5,"y":-0.00494,"t":"PD T-ALL #6"},{"x":3.543,"y":-0.00494,"t":"PD T-ALL #10"}]},"mark":{"type":"text","fontSize":6.5},"encoding":{"text":{"field":"t"}}}
]},
{"width":140,"height":153,
"encoding":{"x":{"field":"x","type":"quantitative","title":null,"scale":{"domain":[-0.974,6.395],"nice":false,"zero":false},"axis":null},"y":{"field":"y","type":"quantitative","title":null,"scale":{"domain":[32.75,-5.215],"nice":false,"zero":false},"axis":null}},
"layer":[
{"data":{"name":"heat"},"transform":[{"filter":"datum.y<33"}],"mark":{"type":"rect","width":19,"height":4.3},"encoding":{"color":{"field":"z","type":"quantitative","legend":null,"scale":{"domain":[-2,0,2],"range":["#0a28f5","#ffffff","#f51a0a"],"interpolate":"rgb"}}}},
{"data":{"values":[{"x":-0.553,"x2":2.447,"y":-1.49,"y2":-1.49},{"x":2.553,"x2":5.5,"y":-1.49,"y2":-1.49}]},"mark":{"type":"rule","color":"#888","strokeWidth":1.5},"encoding":{"x2":{"field":"x2"},"y2":{"field":"y2"}}},
{"data":{"values":[{"x":-0.658,"y":-4.97,"t":"F"}]},"mark":{"type":"text","align":"left","fontSize":10},"encoding":{"text":{"field":"t"}}},
{"data":{"values":[{"x":0.342,"y":-3.23,"t":"Myc"},{"x":3.18,"y":-3.23,"t":"Myc"}]},"mark":{"type":"text","align":"left","fontSize":8},"encoding":{"text":{"field":"t"}}},
{"data":{"values":[{"x":1.13,"y":-4.22,"t":"GFP-"},{"x":3.97,"y":-4.22,"t":"GFP+"}]},"mark":{"type":"text","align":"left","fontSize":5.5},"encoding":{"text":{"field":"t"}}},
{"data":{"values":[{"x":5.71,"y":-0.25,"t":"Cdc6"},{"x":5.71,"y":1.57,"t":"Mcm10"},{"x":5.71,"y":3.39,"t":"Chek1"},{"x":5.71,"y":5.21,"t":"Aurkb"},{"x":5.71,"y":7.03,"t":"Ccnb1"},{"x":5.71,"y":8.85,"t":"Shmt1"},{"x":5.71,"y":10.66,"t":"Il7r"},{"x":5.71,"y":12.48,"t":"E2f1"},{"x":5.71,"y":14.3,"t":"Cad"},{"x":5.71,"y":16.12,"t":"Suv39h2"},{"x":5.71,"y":17.94,"t":"Skp2"},{"x":5.71,"y":19.76,"t":"Brca1"},{"x":5.71,"y":21.58,"t":"Phgdh"},{"x":5.71,"y":23.4,"t":"Bub1b"},{"x":5.71,"y":25.22,"t":"Cbx5"},{"x":5.71,"y":27.04,"t":"Pa2g4"},{"x":5.71,"y":28.85,"t":"Prmt5"},{"x":5.71,"y":30.67,"t":"Cks2"},{"x":5.71,"y":32.49,"t":"Cdk4"}]},"mark":{"type":"text","align":"left","fontSize":6.5,"fontStyle":"italic","color":"#d8203a"},"encoding":{"text":{"field":"t"}}}
]},
{"width":145,"height":153,
"encoding":{"x":{"field":"x","type":"quantitative","title":null,"scale":{"domain":[-0.3504,0.8889],"nice":false,"zero":false},"axis":null},"y":{"field":"y","type":"quantitative","title":null,"scale":{"domain":[-0.4657,0.9045],"nice":false,"zero":false},"axis":{"values":[0,0.1,0.2,0.3,0.4,0.5,0.6],"format":".1f","offset":-41,"labelFontSize":5.5,"labelColor":"#555","tickSize":1.5,"tickColor":"#777"}}},
"layer":[
{"data":{"values":[{"x":0,"x2":1,"y":-0.3313,"y2":-0.2687}]},"mark":{"type":"rect","fill":{"gradient":"linear","x1":0,"y1":0,"x2":1,"y2":0,"stops":[{"offset":0,"color":"#e8706a"},{"offset":0.15,"color":"#ee9a92"},{"offset":0.3,"color":"#f3c3c8"},{"offset":0.45,"color":"#eedbe8"},{"offset":0.6,"color":"#d5d9ee"},{"offset":0.8,"color":"#aab4de"},{"offset":0.9,"color":"#7c80c4"},{"offset":0.97,"color":"#3a3aa0"},{"offset":0.975,"color":"#ffffff"},{"offset":1,"color":"#ffffff"}]}},"encoding":{"x2":{"field":"x2"},"y2":{"field":"y2"}}},
{"data":{"values":[{"x":0,"x2":0.22,"y":-0.0358,"y2":-0.2687}]},"mark":{"type":"rect","fill":"#000","opacity":0.6},"encoding":{"x2":{"field":"x2"},"y2":{"field":"y2"}}},
{"data":{"values":[{"x":0.01,"y":-0.0358,"y2":-0.2687},{"x":0.024,"y":-0.0358,"y2":-0.2687},{"x":0.036,"y":-0.0358,"y2":-0.2687},{"x":0.05,"y":-0.0358,"y2":-0.2687},{"x":0.062,"y":-0.0358,"y2":-0.2687},{"x":0.078,"y":-0.0358,"y2":-0.2687},{"x":0.09,"y":-0.0358,"y2":-0.2687},{"x":0.102,"y":-0.0358,"y2":-0.2687},{"x":0.12,"y":-0.0358,"y2":-0.2687},{"x":0.132,"y":-0.0358,"y2":-0.2687},{"x":0.15,"y":-0.0358,"y2":-0.2687},{"x":0.162,"y":-0.0358,"y2":-0.2687},{"x":0.18,"y":-0.0358,"y2":-0.2687},{"x":0.192,"y":-0.0358,"y2":-0.2687},{"x":0.21,"y":-0.0358,"y2":-0.2687},{"x":0.226,"y":-0.0358,"y2":-0.2687},{"x":0.242,"y":-0.0358,"y2":-0.2687},{"x":0.26,"y":-0.0358,"y2":-0.2687},{"x":0.27,"y":-0.0358,"y2":-0.2687},{"x":0.29,"y":-0.0358,"y2":-0.2687},{"x":0.3,"y":-0.0358,"y2":-0.2687},{"x":0.32,"y":-0.0358,"y2":-0.2687},{"x":0.33,"y":-0.0358,"y2":-0.2687},{"x":0.35,"y":-0.0358,"y2":-0.2687},{"x":0.37,"y":-0.0358,"y2":-0.2687},{"x":0.38,"y":-0.0358,"y2":-0.2687},{"x":0.4,"y":-0.0358,"y2":-0.2687},{"x":0.42,"y":-0.0358,"y2":-0.2687},{"x":0.43,"y":-0.0358,"y2":-0.2687},{"x":0.45,"y":-0.0358,"y2":-0.2687},{"x":0.47,"y":-0.0358,"y2":-0.2687},{"x":0.48,"y":-0.0358,"y2":-0.2687},{"x":0.5,"y":-0.0358,"y2":-0.2687},{"x":0.53,"y":-0.0358,"y2":-0.2687},{"x":0.55,"y":-0.0358,"y2":-0.2687},{"x":0.58,"y":-0.0358,"y2":-0.2687},{"x":0.59,"y":-0.0358,"y2":-0.2687},{"x":0.62,"y":-0.0358,"y2":-0.2687},{"x":0.65,"y":-0.0358,"y2":-0.2687},{"x":0.66,"y":-0.0358,"y2":-0.2687},{"x":0.69,"y":-0.0358,"y2":-0.2687},{"x":0.72,"y":-0.0358,"y2":-0.2687},{"x":0.75,"y":-0.0358,"y2":-0.2687},{"x":0.79,"y":-0.0358,"y2":-0.2687},{"x":0.82,"y":-0.0358,"y2":-0.2687},{"x":0.85,"y":-0.0358,"y2":-0.2687},{"x":0.88,"y":-0.0358,"y2":-0.2687},{"x":0.9,"y":-0.0358,"y2":-0.2687},{"x":0.93,"y":-0.0358,"y2":-0.2687}]},"mark":{"type":"rule","color":"#000","opacity":0.5,"strokeWidth":1},"encoding":{"y2":{"field":"y2"}}},
{"data":{"values":[{"x":0,"y":0},{"x":0.023,"y":0.23},{"x":0.051,"y":0.364},{"x":0.085,"y":0.507},{"x":0.123,"y":0.573},{"x":0.151,"y":0.624},{"x":0.208,"y":0.639},{"x":0.265,"y":0.618},{"x":0.35,"y":0.537},{"x":0.436,"y":0.448},{"x":0.55,"y":0.313},{"x":0.664,"y":0.191},{"x":0.75,"y":0.119},{"x":0.835,"y":0.066},{"x":0.892,"y":0.042},{"x":0.943,"y":0.006}]},"mark":{"type":"line","color":"#1fa86a","strokeWidth":1.5}},
{"data":{"values":[{"x":0,"x2":1,"y":0,"y2":0},{"x":0,"x2":1,"y":-0.0358,"y2":-0.0358}]},"mark":{"type":"rule","color":"#222","strokeWidth":1.2},"encoding":{"x2":{"field":"x2"},"y2":{"field":"y2"}}},
{"data":{"values":[{"x":0,"x2":1,"y":-0.3313,"y2":0.6716}]},"mark":{"type":"rect","fillOpacity":0,"stroke":"#444","strokeWidth":1},"encoding":{"x2":{"field":"x2"},"y2":{"field":"y2"}}},
{"data":{"values":[{"x":-0.154,"y":0.8955,"t":"G"}]},"mark":{"type":"text","align":"left","fontSize":10},"encoding":{"text":{"field":"t"}}},
{"data":{"values":[{"x":0.496,"y":0.752,"t":"MYC MODULE"}]},"mark":{"type":"text","fontSize":8,"color":"#333"},"encoding":{"text":{"field":"t"}}},
{"data":{"values":[{"x":0.581,"y":0.573,"t":"NES = 2.342"},{"x":0.581,"y":0.497,"t":"FDR < 0.0001"},{"x":0.615,"y":0.421,"t":"< 0.0001"}]},"mark":{"type":"text","align":"left","fontSize":7,"color":"#333"},"encoding":{"text":{"field":"t"}}},
{"data":{"values":[{"x":0.581,"y":0.421,"t":"p"}]},"mark":{"type":"text","align":"left","fontSize":7,"fontStyle":"italic","color":"#333"},"encoding":{"text":{"field":"t"}}},
{"data":{"values":[{"x":-0.137,"y":0.322,"t":"Enrichment score (ES)"}]},"mark":{"type":"text","fontSize":6,"angle":270,"color":"#555"},"encoding":{"text":{"field":"t"}}},
{"data":{"values":[{"x":0.128,"y":-0.385,"t":"MYC pos"}]},"mark":{"type":"text","fontSize":6.5,"color":"#e07878"},"encoding":{"text":{"field":"t"}}},
{"data":{"values":[{"x":0.872,"y":-0.385,"t":"MYC neg"}]},"mark":{"type":"text","fontSize":6.5,"color":"#6a7ab8"},"encoding":{"text":{"field":"t"}}}
]},
{"width":161,"height":153,
"encoding":{"x":{"field":"x","type":"quantitative","title":null,"scale":{"domain":[-0.313,1.087],"nice":false,"zero":false},"axis":null},"y":{"field":"y","type":"quantitative","title":null,"scale":{"domain":[-0.4886,0.8229],"nice":false,"zero":false},"axis":{"values":[0,0.1,0.2,0.3,0.4,0.5,0.6],"format":".1f","offset":-36,"labelFontSize":5.5,"labelColor":"#555","tickSize":1.5,"tickColor":"#777"}}},
"layer":[
{"data":{"values":[{"x":0,"x2":1,"y":-0.36,"y2":-0.3}]},"mark":{"type":"rect","fill":{"gradient":"linear","x1":0,"y1":0,"x2":1,"y2":0,"stops":[{"offset":0,"color":"#e8706a"},{"offset":0.15,"color":"#ee9a92"},{"offset":0.3,"color":"#f3c3c8"},{"offset":0.45,"color":"#eedbe8"},{"offset":0.6,"color":"#d5d9ee"},{"offset":0.8,"color":"#aab4de"},{"offset":0.9,"color":"#7c80c4"},{"offset":0.97,"color":"#3a3aa0"},{"offset":0.975,"color":"#ffffff"},{"offset":1,"color":"#ffffff"}]}},"encoding":{"x2":{"field":"x2"},"y2":{"field":"y2"}}},
{"data":{"values":[{"x":0.02,"x2":0.15,"y":-0.0729,"y2":-0.3}]},"mark":{"type":"rect","fill":"#000","opacity":0.5},"encoding":{"x2":{"field":"x2"},"y2":{"field":"y2"}}},
{"data":{"values":[{"x":0.012,"y":-0.0729,"y2":-0.3},{"x":0.028,"y":-0.0729,"y2":-0.3},{"x":0.044,"y":-0.0729,"y2":-0.3},{"x":0.064,"y":-0.0729,"y2":-0.3},{"x":0.08,"y":-0.0729,"y2":-0.3},{"x":0.1,"y":-0.0729,"y2":-0.3},{"x":0.12,"y":-0.0729,"y2":-0.3},{"x":0.14,"y":-0.0729,"y2":-0.3},{"x":0.17,"y":-0.0729,"y2":-0.3},{"x":0.18,"y":-0.0729,"y2":-0.3},{"x":0.2,"y":-0.0729,"y2":-0.3},{"x":0.22,"y":-0.0729,"y2":-0.3},{"x":0.25,"y":-0.0729,"y2":-0.3},{"x":0.27,"y":-0.0729,"y2":-0.3},{"x":0.3,"y":-0.0729,"y2":-0.3},{"x":0.32,"y":-0.0729,"y2":-0.3},{"x":0.34,"y":-0.0729,"y2":-0.3},{"x":0.37,"y":-0.0729,"y2":-0.3},{"x":0.38,"y":-0.0729,"y2":-0.3},{"x":0.41,"y":-0.0729,"y2":-0.3},{"x":0.43,"y":-0.0729,"y2":-0.3},{"x":0.44,"y":-0.0729,"y2":-0.3},{"x":0.46,"y":-0.0729,"y2":-0.3},{"x":0.47,"y":-0.0729,"y2":-0.3},{"x":0.5,"y":-0.0729,"y2":-0.3},{"x":0.52,"y":-0.0729,"y2":-0.3},{"x":0.55,"y":-0.0729,"y2":-0.3},{"x":0.58,"y":-0.0729,"y2":-0.3},{"x":0.6,"y":-0.0729,"y2":-0.3},{"x":0.63,"y":-0.0729,"y2":-0.3},{"x":0.66,"y":-0.0729,"y2":-0.3},{"x":0.68,"y":-0.0729,"y2":-0.3},{"x":0.7,"y":-0.0729,"y2":-0.3},{"x":0.74,"y":-0.0729,"y2":-0.3},{"x":0.78,"y":-0.0729,"y2":-0.3},{"x":0.8,"y":-0.0729,"y2":-0.3},{"x":0.83,"y":-0.0729,"y2":-0.3},{"x":0.86,"y":-0.0729,"y2":-0.3},{"x":0.9,"y":-0.0729,"y2":-0.3},{"x":0.94,"y":-0.0729,"y2":-0.3}]},"mark":{"type":"rule","color":"#000","opacity":0.5,"strokeWidth":1},"encoding":{"y2":{"field":"y2"}}},
{"data":{"values":[{"x":0,"y":0},{"x":0.02,"y":0.106},{"x":0.041,"y":0.22},{"x":0.064,"y":0.349},{"x":0.087,"y":0.449},{"x":0.116,"y":0.52},{"x":0.151,"y":0.554},{"x":0.18,"y":0.563},{"x":0.238,"y":0.546},{"x":0.31,"y":0.506},{"x":0.397,"y":0.414},{"x":0.499,"y":0.306},{"x":0.615,"y":0.177},{"x":0.73,"y":0.069},{"x":0.832,"y":0.006},{"x":0.89,"y":0},{"x":0.919,"y":-0.023},{"x":0.942,"y":-0.037}]},"mark":{"type":"line","color":"#1fa86a","strokeWidth":1.5}},
{"data":{"values":[{"x":0,"x2":1,"y":0,"y2":0}]},"mark":{"type":"rule","color":"#111","strokeWidth":1.2},"encoding":{"x2":{"field":"x2"},"y2":{"field":"y2"}}},
{"data":{"values":[{"x":0,"x2":1,"y":-0.0729,"y2":-0.0729}]},"mark":{"type":"rule","color":"#444","strokeWidth":1},"encoding":{"x2":{"field":"x2"},"y2":{"field":"y2"}}},
{"data":{"values":[{"x":0,"x2":1,"y":-0.36,"y2":0.6}]},"mark":{"type":"rect","fillOpacity":0,"stroke":"#444","strokeWidth":1},"encoding":{"x2":{"field":"x2"},"y2":{"field":"y2"}}},
{"data":{"values":[{"x":0.496,"y":0.677,"t":"STEMNESS (HSC, ESC & NSC)"}]},"mark":{"type":"text","fontSize":7.7,"color":"#333"},"encoding":{"text":{"field":"t"}}},
{"data":{"values":[{"x":0.583,"y":0.506,"t":"NES = 1.943"},{"x":0.583,"y":0.429,"t":"FDR < 0.0001"},{"x":0.617,"y":0.351,"t":"< 0.0001"}]},"mark":{"type":"text","align":"left","fontSize":7,"color":"#333"},"encoding":{"text":{"field":"t"}}},
{"data":{"values":[{"x":0.583,"y":0.351,"t":"p"}]},"mark":{"type":"text","align":"left","fontSize":7,"fontStyle":"italic","color":"#333"},"encoding":{"text":{"field":"t"}}},
{"data":{"values":[{"x":-0.122,"y":0.283,"t":"Enrichment score (ES)"}]},"mark":{"type":"text","fontSize":6,"angle":270,"color":"#555"},"encoding":{"text":{"field":"t"}}},
{"data":{"values":[{"x":0.122,"y":-0.411,"t":"MYC pos"}]},"mark":{"type":"text","fontSize":6.5,"color":"#e07878"},"encoding":{"text":{"field":"t"}}},
{"data":{"values":[{"x":0.87,"y":-0.411,"t":"MYC neg"}]},"mark":{"type":"text","fontSize":6.5,"color":"#6a7ab8"},"encoding":{"text":{"field":"t"}}}
]},
{"width":140,"height":157,
"encoding":{"x":{"field":"x","type":"quantitative","title":null,"scale":{"domain":[-0.974,6.395],"nice":false,"zero":false},"axis":null},"y":{"field":"y","type":"quantitative","title":null,"scale":{"domain":[71.71,32.75],"nice":false,"zero":false},"axis":null}},
"layer":[
{"data":{"name":"heat"},"transform":[{"filter":"datum.y>=33"}],"mark":{"type":"rect","width":19,"height":4.3},"encoding":{"color":{"field":"z","type":"quantitative","legend":null,"scale":{"domain":[-2,0,2],"range":["#0a28f5","#ffffff","#f51a0a"],"interpolate":"rgb"}}}},
{"data":{"values":[{"x":-0.5,"x2":5.5,"y":39.5,"y2":39.5}]},"mark":{"type":"rule","color":"white","strokeWidth":1},"encoding":{"x2":{"field":"x2"},"y2":{"field":"y2"}}},
{"data":{"values":[{"x":-0.447,"x2":5.289,"y":64.76,"y2":66.75}]},"mark":{"type":"rect","fill":{"gradient":"linear","x1":0,"y1":0,"x2":1,"y2":0,"stops":[{"offset":0,"color":"#0a28f5"},{"offset":0.5,"color":"#ffffff"},{"offset":1,"color":"#f51a0a"}]}},"encoding":{"x2":{"field":"x2"},"y2":{"field":"y2"}}},
{"data":{"values":[{"x":-0.237,"y":68.48,"t":"-2"},{"x":2.447,"y":68.48,"t":"0"},{"x":5.18,"y":68.48,"t":"2"}]},"mark":{"type":"text","fontSize":7},"encoding":{"text":{"field":"t"}}},
{"data":{"values":[{"x":2.48,"y":70.2,"t":"Row z-score"}]},"mark":{"type":"text","fontSize":8},"encoding":{"text":{"field":"t"}}},
{"data":{"values":[{"x":5.71,"y":34.31,"t":"Nme1"},{"x":5.71,"y":36.13,"t":"Wdr5"},{"x":5.71,"y":37.95,"t":"Ldha"}]},"mark":{"type":"text","align":"left","fontSize":6.5,"fontStyle":"italic","color":"#d8203a"},"encoding":{"text":{"field":"t"}}},
{"data":{"values":[{"x":5.71,"y":41.68,"t":"Mxd4"},{"x":5.71,"y":43.5,"t":"Prdm2"},{"x":5.71,"y":45.32,"t":"Fbxw7"},{"x":5.71,"y":47.14,"t":"Ptprc"},{"x":5.71,"y":48.96,"t":"Ldhb"},{"x":5.71,"y":50.78,"t":"Socs3"},{"x":5.71,"y":52.6,"t":"Pten"},{"x":5.71,"y":54.41,"t":"Slamf1"},{"x":5.71,"y":56.23,"t":"Fas"},{"x":5.71,"y":58.05,"t":"Btg1"},{"x":5.71,"y":59.87,"t":"Cd4"},{"x":5.71,"y":61.69,"t":"Tcf7l2"},{"x":5.71,"y":63.5,"t":"Kdm5b"}]},"mark":{"type":"text","align":"left","fontSize":6.5,"fontStyle":"italic","color":"#3434b0"},"encoding":{"text":{"field":"t"}}}
]},
{"width":145,"height":157,
"encoding":{"x":{"field":"x","type":"quantitative","title":null,"scale":{"domain":[-0.3717,0.9115],"nice":false,"zero":false},"axis":null},"y":{"field":"y","type":"quantitative","title":null,"scale":{"domain":[-0.855,1.042],"nice":false,"zero":false},"axis":{"values":[0,0.1,0.2,0.3,0.4,0.5,0.6,0.7,0.8],"format":".1f","offset":-42,"labelFontSize":5.5,"labelColor":"#555","tickSize":1.5,"tickColor":"#777"}}},
"layer":[
{"data":{"values":[{"x":0,"x2":1,"y":-0.44,"y2":-0.355}]},"mark":{"type":"rect","fill":{"gradient":"linear","x1":0,"y1":0,"x2":1,"y2":0,"stops":[{"offset":0,"color":"#e8706a"},{"offset":0.15,"color":"#ee9a92"},{"offset":0.3,"color":"#f3c3c8"},{"offset":0.45,"color":"#eedbe8"},{"offset":0.6,"color":"#d5d9ee"},{"offset":0.8,"color":"#aab4de"},{"offset":0.9,"color":"#7c80c4"},{"offset":0.95,"color":"#3a3aa0"},{"offset":0.955,"color":"#ffffff"},{"offset":1,"color":"#ffffff"}]}},"encoding":{"x2":{"field":"x2"},"y2":{"field":"y2"}}},
{"data":{"values":[{"x":0.09,"y":-0.054,"y2":-0.355},{"x":0.12,"y":-0.054,"y2":-0.355},{"x":0.176,"y":-0.054,"y2":-0.355},{"x":0.25,"y":-0.054,"y2":-0.355},{"x":0.294,"y":-0.054,"y2":-0.355},{"x":0.353,"y":-0.054,"y2":-0.355},{"x":0.47,"y":-0.054,"y2":-0.355},{"x":0.485,"y":-0.054,"y2":-0.355},{"x":0.53,"y":-0.054,"y2":-0.355},{"x":0.56,"y":-0.054,"y2":-0.355},{"x":0.676,"y":-0.054,"y2":-0.355},{"x":0.69,"y":-0.054,"y2":-0.355},{"x":0.706,"y":-0.054,"y2":-0.355},{"x":0.75,"y":-0.054,"y2":-0.355},{"x":0.78,"y":-0.054,"y2":-0.355},{"x":0.868,"y":-0.054,"y2":-0.355},{"x":0.912,"y":-0.054,"y2":-0.355}]},"mark":{"type":"rule","color":"#000","opacity":0.4,"strokeWidth":1},"encoding":{"y2":{"field":"y2"}}},
{"data":{"values":[{"x":0,"x2":0.03,"y":-0.054,"y2":-0.355}]},"mark":{"type":"rect","fill":"#1a1a1a"},"encoding":{"x2":{"field":"x2"},"y2":{"field":"y2"}}},
{"data":{"values":[{"x":0,"y":0},{"x":0.009,"y":0.369},{"x":0.021,"y":0.651},{"x":0.041,"y":0.843},{"x":0.074,"y":0.831},{"x":0.118,"y":0.811},{"x":0.191,"y":0.751},{"x":0.265,"y":0.671},{"x":0.412,"y":0.51},{"x":0.559,"y":0.349},{"x":0.706,"y":0.209},{"x":0.853,"y":0.06},{"x":0.941,"y":0}]},"mark":{"type":"line","color":"#1fa86a","strokeWidth":1.5}},
{"data":{"values":[{"x":0,"x2":1,"y":0,"y2":0}]},"mark":{"type":"rule","color":"#111","strokeWidth":1.2},"encoding":{"x2":{"field":"x2"},"y2":{"field":"y2"}}},
{"data":{"values":[{"x":0,"x2":1,"y":-0.054,"y2":-0.054}]},"mark":{"type":"rule","color":"#444","strokeWidth":1},"encoding":{"x2":{"field":"x2"},"y2":{"field":"y2"}}},
{"data":{"values":[{"x":0,"x2":1,"y":-0.44,"y2":0.8976}]},"mark":{"type":"rect","fillOpacity":0,"stroke":"#444","strokeWidth":1},"encoding":{"x2":{"field":"x2"},"y2":{"field":"y2"}}},
{"data":{"values":[{"x":0.513,"y":0.994,"t":"EARLY T LYMPHOCYTE"}]},"mark":{"type":"text","fontSize":8,"color":"#333"},"encoding":{"text":{"field":"t"}}},
{"data":{"values":[{"x":0.593,"y":0.765,"t":"NES = 2.545"},{"x":0.593,"y":0.657,"t":"FDR < 0.0001"},{"x":0.628,"y":0.548,"t":"< 0.0001"}]},"mark":{"type":"text","align":"left","fontSize":7,"color":"#333"},"encoding":{"text":{"field":"t"}}},
{"data":{"values":[{"x":0.593,"y":0.548,"t":"p"}]},"mark":{"type":"text","align":"left","fontSize":7,"fontStyle":"italic","color":"#333"},"encoding":{"text":{"field":"t"}}},
{"data":{"values":[{"x":-0.15,"y":0.38,"t":"Enrichment score (ES)"}]},"mark":{"type":"text","fontSize":6,"angle":270,"color":"#555"},"encoding":{"text":{"field":"t"}}},
{"data":{"values":[{"x":0.124,"y":-0.524,"t":"MYC pos"}]},"mark":{"type":"text","fontSize":6.5,"color":"#e07878"},"encoding":{"text":{"field":"t"}}},
{"data":{"values":[{"x":0.867,"y":-0.524,"t":"MYC neg"}]},"mark":{"type":"text","fontSize":6.5,"color":"#6a7ab8"},"encoding":{"text":{"field":"t"}}}
]},
{"width":161,"height":157,
"encoding":{"x":{"field":"x","type":"quantitative","title":null,"scale":{"domain":[-0.313,1.087],"nice":false,"zero":false},"axis":null},"y":{"field":"y","type":"quantitative","title":null,"scale":{"domain":[-0.811,0.975],"nice":false,"zero":false},"axis":{"values":[0,0.1,0.2,0.3,0.4,0.5,0.6,0.7,0.8],"format":".1f","offset":-36,"labelFontSize":5.5,"labelColor":"#555","tickSize":1.5,"tickColor":"#777"}}},
"layer":[
{"data":{"values":[{"x":0,"x2":1,"y":-0.436,"y2":-0.356}]},"mark":{"type":"rect","fill":{"gradient":"linear","x1":0,"y1":0,"x2":1,"y2":0,"stops":[{"offset":0,"color":"#e8706a"},{"offset":0.15,"color":"#ee9a92"},{"offset":0.3,"color":"#f3c3c8"},{"offset":0.45,"color":"#eedbe8"},{"offset":0.6,"color":"#d5d9ee"},{"offset":0.8,"color":"#aab4de"},{"offset":0.9,"color":"#7c80c4"},{"offset":0.95,"color":"#3a3aa0"},{"offset":0.955,"color":"#ffffff"},{"offset":1,"color":"#ffffff"}]}},"encoding":{"x2":{"field":"x2"},"y2":{"field":"y2"}}},
{"data":{"values":[{"x":0.04,"y":-0.083,"y2":-0.356},{"x":0.05,"y":-0.083,"y2":-0.356},{"x":0.06,"y":-0.083,"y2":-0.356},{"x":0.07,"y":-0.083,"y2":-0.356},{"x":0.092,"y":-0.083,"y2":-0.356},{"x":0.107,"y":-0.083,"y2":-0.356},{"x":0.15,"y":-0.083,"y2":-0.356},{"x":0.165,"y":-0.083,"y2":-0.356},{"x":0.194,"y":-0.083,"y2":-0.356},{"x":0.237,"y":-0.083,"y2":-0.356},{"x":0.25,"y":-0.083,"y2":-0.356},{"x":0.324,"y":-0.083,"y2":-0.356},{"x":0.497,"y":-0.083,"y2":-0.356},{"x":0.54,"y":-0.083,"y2":-0.356},{"x":0.685,"y":-0.083,"y2":-0.356},{"x":0.723,"y":-0.083,"y2":-0.356},{"x":0.757,"y":-0.083,"y2":-0.356},{"x":0.945,"y":-0.083,"y2":-0.356}]},"mark":{"type":"rule","color":"#000","opacity":0.5,"strokeWidth":1},"encoding":{"y2":{"field":"y2"}}},
{"data":{"values":[{"x":0,"x2":0.03,"y":-0.083,"y2":-0.356}]},"mark":{"type":"rect","fill":"#1a1a1a"},"encoding":{"x2":{"field":"x2"},"y2":{"field":"y2"}}},
{"data":{"values":[{"x":0,"y":0},{"x":0.012,"y":0.307},{"x":0.023,"y":0.534},{"x":0.04,"y":0.667},{"x":0.064,"y":0.788},{"x":0.098,"y":0.761},{"x":0.116,"y":0.788},{"x":0.15,"y":0.761},{"x":0.208,"y":0.723},{"x":0.295,"y":0.629},{"x":0.41,"y":0.477},{"x":0.526,"y":0.337},{"x":0.642,"y":0.231},{"x":0.757,"y":0.136},{"x":0.873,"y":0.042},{"x":0.945,"y":-0.023}]},"mark":{"type":"line","color":"#1fa86a","strokeWidth":1.5}},
{"data":{"values":[{"x":0,"x2":1,"y":0,"y2":0}]},"mark":{"type":"rule","color":"#111","strokeWidth":1.2},"encoding":{"x2":{"field":"x2"},"y2":{"field":"y2"}}},
{"data":{"values":[{"x":0,"x2":1,"y":-0.083,"y2":-0.083}]},"mark":{"type":"rule","color":"#bbb","strokeWidth":1},"encoding":{"x2":{"field":"x2"},"y2":{"field":"y2"}}},
{"data":{"values":[{"x":0,"x2":1,"y":-0.436,"y2":0.827}]},"mark":{"type":"rect","fillOpacity":0,"stroke":"#444","strokeWidth":1},"encoding":{"x2":{"field":"x2"},"y2":{"field":"y2"}}},
{"data":{"values":[{"x":0.504,"y":0.929,"t":"UNDIFFERENTIATED CANCER"}]},"mark":{"type":"text","fontSize":7.7,"color":"#333"},"encoding":{"text":{"field":"t"}}},
{"data":{"values":[{"x":0.583,"y":0.747,"t":"NES = 2.33"},{"x":0.583,"y":0.645,"t":"FDR < 0.0001"},{"x":0.617,"y":0.543,"t":"< 0.0001"}]},"mark":{"type":"text","align":"left","fontSize":7,"color":"#333"},"encoding":{"text":{"field":"t"}}},
{"data":{"values":[{"x":0.583,"y":0.543,"t":"p"}]},"mark":{"type":"text","align":"left","fontSize":7,"fontStyle":"italic","color":"#333"},"encoding":{"text":{"field":"t"}}},
{"data":{"values":[{"x":-0.139,"y":0.383,"t":"Enrichment score (ES)"}]},"mark":{"type":"text","fontSize":6,"angle":270,"color":"#555"},"encoding":{"text":{"field":"t"}}},
{"data":{"values":[{"x":0.122,"y":-0.504,"t":"MYC pos"}]},"mark":{"type":"text","fontSize":6.5,"color":"#e07878"},"encoding":{"text":{"field":"t"}}},
{"data":{"values":[{"x":0.87,"y":-0.504,"t":"MYC neg"}]},"mark":{"type":"text","fontSize":6.5,"color":"#6a7ab8"},"encoding":{"text":{"field":"t"}}}
]}
]}
